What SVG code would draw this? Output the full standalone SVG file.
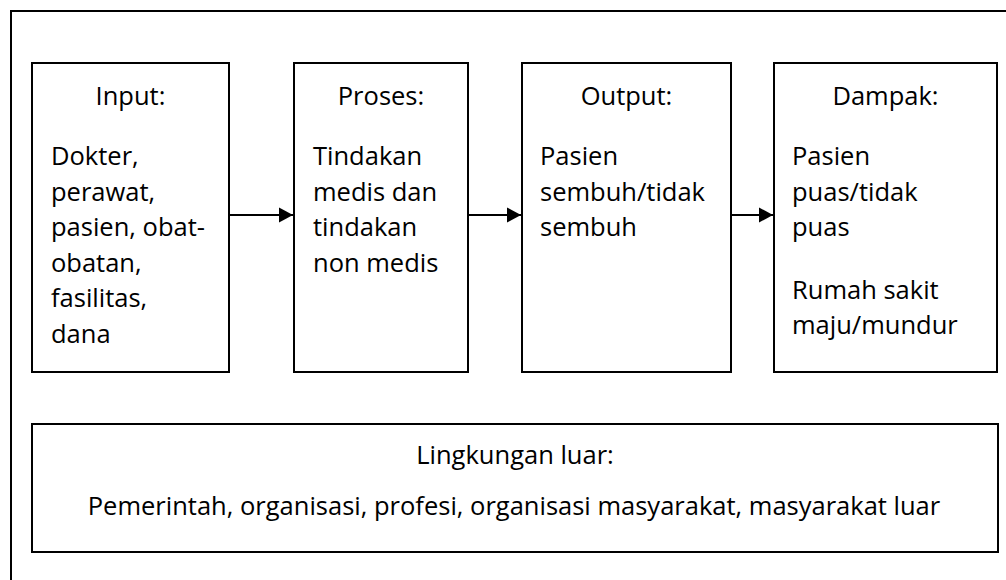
<svg xmlns="http://www.w3.org/2000/svg" width="1006" height="580" viewBox="0 0 1006 580">
  <defs>
    <style>
      .box { fill: #ffffff; stroke: #000000; stroke-width: 2; }
      .frame { fill: #ffffff; stroke: #000000; stroke-width: 2; }
      text { font-family: "Open Sans", "Noto Sans", "Liberation Sans", sans-serif; font-size: 25.5px; fill: #000000; }
      .title { text-anchor: middle; }
      .conn { stroke: #000000; stroke-width: 2; fill: none; marker-end: url(#arrow); }
    </style>
    <marker id="arrow" markerUnits="userSpaceOnUse" markerWidth="16" markerHeight="17" refX="15" refY="8.5" orient="auto">
      <path d="M1,1 L15,8.5 L1,16 Z" fill="#000000"/>
    </marker>
  </defs>

  <rect class="frame" x="11" y="11" width="1010" height="590"/>

  <g id="input">
    <rect class="box" x="32" y="63" width="197" height="309"/>
    <text class="title" x="130.5" y="104.5">Input:</text>
    <text x="51" y="165">Dokter,</text>
    <text x="51" y="200.5">perawat,</text>
    <text x="51" y="236">pasien, obat-</text>
    <text x="51" y="271.5">obatan,</text>
    <text x="51" y="307">fasilitas,</text>
    <text x="51" y="342.5">dana</text>
  </g>

  <g id="proses">
    <rect class="box" x="294" y="63" width="174" height="309"/>
    <text class="title" x="381" y="104.5">Proses:</text>
    <text x="313" y="165">Tindakan</text>
    <text x="313" y="200.5">medis dan</text>
    <text x="313" y="236">tindakan</text>
    <text x="313" y="271.5">non medis</text>
  </g>

  <g id="output">
    <rect class="box" x="522" y="63" width="209" height="309"/>
    <text class="title" x="626.5" y="104.5">Output:</text>
    <text x="540" y="165">Pasien</text>
    <text x="540" y="200.5">sembuh/tidak</text>
    <text x="540" y="236">sembuh</text>
  </g>

  <g id="dampak">
    <rect class="box" x="774" y="63" width="223" height="309"/>
    <text class="title" x="885.5" y="104.5">Dampak:</text>
    <text x="792" y="165">Pasien</text>
    <text x="792" y="200.5">puas/tidak</text>
    <text x="792" y="236">puas</text>
    <text x="792" y="298.5">Rumah sakit</text>
    <text x="792" y="334">maju/mundur</text>
  </g>

  <g id="lingkungan">
    <rect class="box" x="32" y="424" width="966" height="128"/>
    <text class="title" x="515" y="464">Lingkungan luar:</text>
    <text class="title" x="514" y="515">Pemerintah, organisasi, profesi, organisasi masyarakat, masyarakat luar</text>
  </g>

  <g id="connectors">
    <line class="conn" x1="229" y1="215" x2="293" y2="215"/>
    <line class="conn" x1="468" y1="215" x2="521" y2="215"/>
    <line class="conn" x1="731" y1="215" x2="773" y2="215"/>
  </g>
</svg>
